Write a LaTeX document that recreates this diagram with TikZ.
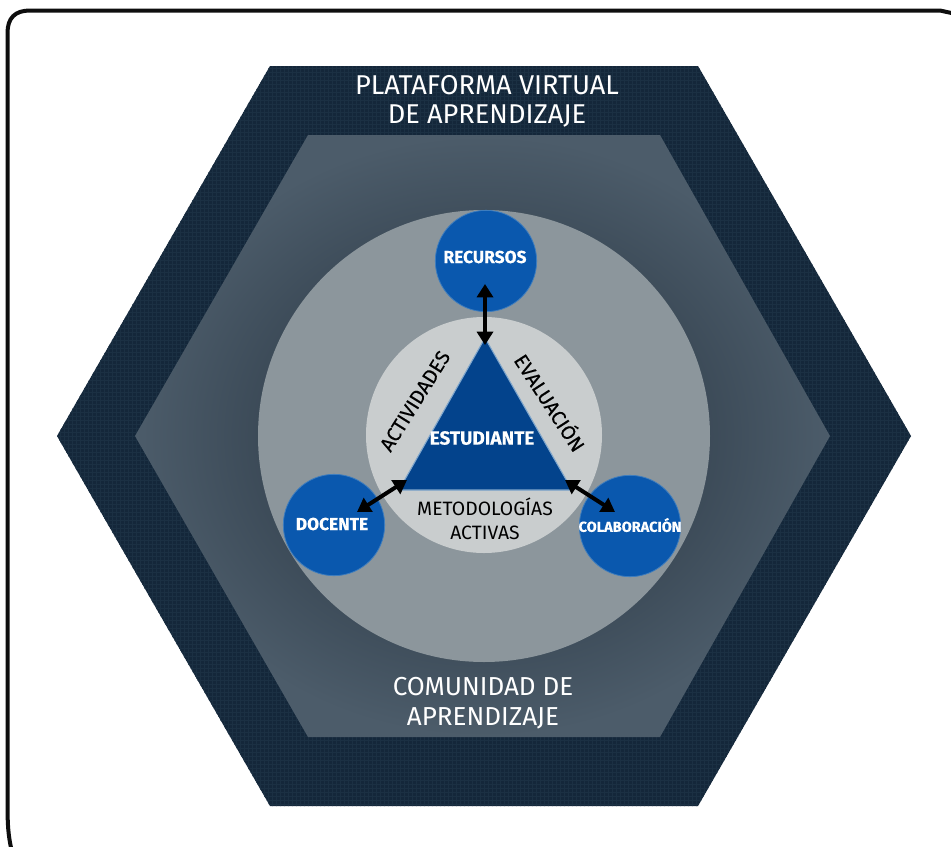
\documentclass[tikz,border=0pt]{standalone}
\usepackage{fontspec}
\setmainfont{Fira Sans}
\newfontfamily\labelfont{Fira Sans}[FakeBold=0.15]
\usetikzlibrary{arrows.meta}
\definecolor{frameblack}{HTML}{0E0E0E}
\definecolor{navyhex}{HTML}{14273A}
\definecolor{navygrid}{HTML}{1B3043}
\definecolor{hexedge}{HTML}{4C5C6A}
\definecolor{hexmid}{HTML}{1F2B37}
\definecolor{greycirc}{HTML}{8C969C}
\definecolor{lightcirc}{HTML}{C9CDCE}
\definecolor{triblue}{HTML}{03438C}
\definecolor{triedge}{HTML}{7FA6CC}
\definecolor{bluecirc}{HTML}{0A58AE}
\definecolor{bluering}{HTML}{3E7DBE}
\tikzset{
  px/.style={x=0.75pt,y=-0.75pt},
  bluenode/.style={circle,fill=bluecirc,draw=bluering,line width=0.6pt,minimum size=76pt,inner sep=0pt},
  whitetitle/.style={text=white,align=center,font=\fontsize{20.4}{22}\selectfont},
  whitebold/.style={text=white,font=\labelfont\bfseries\fontsize{13}{15}\selectfont},
  blackside/.style={text=black,font=\labelfont\fontsize{15}{17}\selectfont},
  twohead/.style={{Triangle[width=12pt,length=10pt]}-{Triangle[width=12pt,length=10pt]},line width=3pt,black},
}
\begin{document}
\begin{tikzpicture}[px]
\useasboundingbox (0,0) rectangle (951,847);
\fill[white] (0,0) rectangle (951,847);
% frame
\draw[frameblack,line width=3pt] (12,852) .. controls (8,835) and (7.5,825) .. (7.5,800) -- (7.5,33)
  .. controls (7.5,18) and (15,10.5) .. (30,10.5) -- (940,10.5) -- (956,14);
% outer hexagon
\coordinate (oW) at (57,436); \coordinate (oNW) at (270,66); \coordinate (oNE) at (698,66);
\coordinate (oE) at (911,436); \coordinate (oSE) at (698,806); \coordinate (oSW) at (270,806);
\fill[navyhex] (oW)--(oNW)--(oNE)--(oE)--(oSE)--(oSW)--cycle;
\begin{scope}
\clip (oW)--(oNW)--(oNE)--(oE)--(oSE)--(oSW)--cycle;
\foreach \gx in {60,64,...,910} \draw[navygrid,line width=0.3pt] (\gx,60) -- (\gx,810);
\foreach \gy in {68,72,...,806} \draw[navygrid,line width=0.3pt] (50,\gy) -- (915,\gy);
\end{scope}
% inner hexagon
\coordinate (iW) at (135,436); \coordinate (iNW) at (308,135); \coordinate (iNE) at (660,135);
\coordinate (iE) at (830,436); \coordinate (iSE) at (660,737); \coordinate (iSW) at (308,737);
\path[inner color=hexmid,outer color=hexedge] (iW)--(iNW)--(iNE)--(iE)--(iSE)--(iSW)--cycle;
% circles
\node[circle,fill=greycirc,minimum size=339pt,inner sep=0pt] (big) at (484,436) {};
\node[circle,fill=lightcirc,minimum size=177pt,inner sep=0pt] (small) at (484,435) {};
% triangle
\coordinate (tA) at (485,338); \coordinate (tL) at (399,490); \coordinate (tR) at (572,490);
\draw[triedge,fill=triblue,line width=0.8pt] (tA)--(tR)--(tL)--cycle;
% blue nodes
\node[bluenode] (rec) at (486,261) {};
\node[bluenode] (doc) at (334,525) {};
\node[bluenode] (col) at (630,526) {};
\node[whitebold] (recl) at (485,257) {RECURSOS};
\node[whitebold] (docl) at (332,524) {DOCENTE};
\node[whitebold,font=\labelfont\bfseries\fontsize{10.9}{13}\selectfont] (coll) at (630,525) {COLABORACIÓN};
\node[whitebold,font=\labelfont\bfseries\fontsize{14.2}{17}\selectfont] (est) at (482,438) {ESTUDIANTE};
% side texts
\node[blackside,rotate=58] (act) at (415,401) {ACTIVIDADES};
\node[blackside,rotate=-57] (eva) at (551,402) {EVALUACIÓN};
\node[blackside,align=center,font=\fontsize{14.5}{18}\selectfont] (met) at (485,518.5) {METODOLOGÍAS\\ACTIVAS};
% titles
\node[whitetitle] (pla) at (487,101.5) {PLATAFORMA VIRTUAL\\DE APRENDIZAJE};
\node[whitetitle,font=\fontsize{19.5}{22.5}\selectfont] (com) at (483,703) {COMUNIDAD DE\\APRENDIZAJE};
% arrows
\coordinate (a1) at (485,284); \coordinate (a2) at (485,345);
\coordinate (b1) at (357,512); \coordinate (b2) at (407,480);
\coordinate (c1) at (565,480); \coordinate (c2) at (615,512);
\draw[twohead] (a1) -- (a2);
\draw[twohead] (b1) -- (b2);
\draw[twohead] (c1) -- (c2);
\end{tikzpicture}
\end{document}
